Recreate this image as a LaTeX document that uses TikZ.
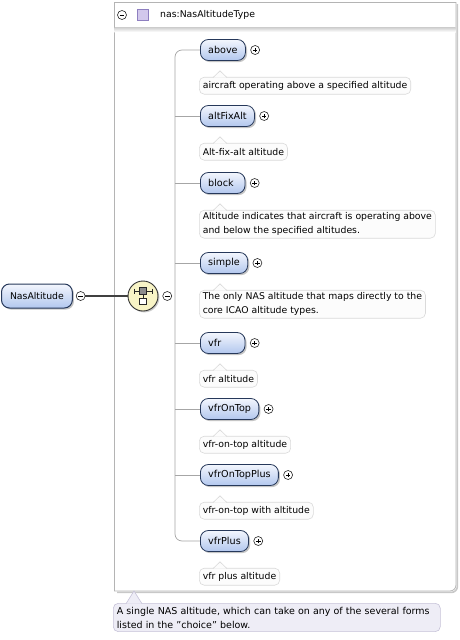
\documentclass[tikz,border=0pt]{standalone}
\usepackage{fontspec}
\setmainfont{DejaVu Sans}
\usetikzlibrary{positioning,calc,shadows}
\definecolor{Frame}{HTML}{B4B4B4}
\definecolor{FrameShade}{HTML}{C8C8C8}
\definecolor{ElemTop}{HTML}{F3F6FD}
\definecolor{ElemBot}{HTML}{B2C7EE}
\definecolor{ElemLine}{HTML}{26385A}
\definecolor{DocLine}{HTML}{DADADA}
\definecolor{DocFill}{HTML}{FCFCFC}
\definecolor{NoteFill}{HTML}{EEEDF6}
\definecolor{NoteLine}{HTML}{C6C2D8}
\definecolor{ChoiceFill}{HTML}{F8F4C6}
\definecolor{TypeFill}{HTML}{D2C8EC}
\definecolor{TypeLine}{HTML}{8E7FC0}
\definecolor{Rail}{HTML}{A6A6A6}
\newcommand{\elemfont}{\fontsize{9.6}{10}\selectfont}
\newsavebox{\elembox}
\newcommand{\elemlabel}[1]{\sbox{\elembox}{#1}%
  \ifdim\wd\elembox<29pt\makebox[29pt][l]{\usebox{\elembox}}\else\usebox{\elembox}\fi}
\tikzset{
  elemnode/.style={rounded corners=8pt, draw=ElemLine, line width=0.8pt, top color=ElemTop, bottom color=ElemBot,
    minimum height=21pt, inner xsep=7.8pt, inner ysep=0pt, anchor=west, font=\elemfont,
    drop shadow={shadow xshift=1.6pt, shadow yshift=-1.6pt, fill=black!45}},
  docnode/.style={rounded corners=5pt, draw=DocLine, fill=DocFill, line width=0.6pt, align=left,
    minimum height=17pt, inner xsep=3.5pt, inner ysep=2.5pt, font=\fontsize{9.3}{14}\selectfont},
  docline/.style={draw=DocLine, line width=0.6pt},
  notenode/.style={rounded corners=5pt, draw=NoteLine, fill=NoteFill, line width=0.6pt, align=left,
    inner xsep=3.5pt, inner ysep=3.5pt, font=\fontsize{9.5}{14}\selectfont},
  pmcirc/.style={circle, draw=black!85, line width=0.6pt, fill=white, minimum size=9pt, inner sep=0pt},
  plus/.style={path picture={\draw[black, line width=0.6pt, shift={(path picture bounding box.center)}]
    (-2.3pt,0pt) -- (2.3pt,0pt) (0pt,-2.3pt) -- (0pt,2.3pt);}},
  minus/.style={path picture={\draw[black, line width=0.6pt, shift={(path picture bounding box.center)}]
    (-2.3pt,0pt) -- (2.3pt,0pt);}},
  railline/.style={draw=Rail, line width=0.7pt},
  linkline/.style={draw=black!75, line width=1.3pt},
  choicenode/.style={circle, draw=black!80, line width=0.9pt, fill=ChoiceFill, minimum size=30pt, inner sep=0pt,
    drop shadow={shadow xshift=1.4pt, shadow yshift=-1.4pt, fill=black!40}},
}
\begin{document}
\begin{tikzpicture}[x=1pt,y=-1pt,font=\fontsize{9.3}{11}\selectfont]
\path[use as bounding box] (0,0) rectangle (459,640);
% complex type frame
\fill[white] (114,2) rectangle (456,591);
\draw[FrameShade, line width=1.6pt, rounded corners=6pt] (457.4,4) -- (457.4,592.4) -- (117,592.4);
\draw[Frame, line width=0.8pt, rounded corners=6pt] (114,591) -- (456,591) -- (456,2);
\draw[Frame, line width=0.8pt] (456,2) -- (114,2) -- (114,591);
\shade[top color=black!18, bottom color=white] (114.5,27.5) rectangle (455.5,32);
\node[pmcirc, minus] (typem) at (122,15) {};
\node[draw=TypeLine, fill=TypeFill, line width=0.6pt, minimum size=11pt, inner sep=0pt] (typesq) at (142.5,15) {};
\node[anchor=west, inner sep=0pt] (typename) at (160,15) {nas:NasAltitudeType};

% root element and choice
\node[elemnode, line width=1pt, minimum height=24pt, inner xsep=8.5pt, font=\fontsize{9.3}{10}\selectfont] (root) at (1,296) {NasAltitude};
\node[pmcirc, minus, right=3pt of root] (rootm) {};
\node[choicenode] (choice) at (143,296) {};
\node[pmcirc, minus, right=4pt of choice] (choicem) {};
\draw[linkline] (rootm) -- (choice);
\begin{scope}[shift={(choice.center)}]
  \draw[black!85, line width=0.7pt] (-9,-5) -- (9,-5);
  \draw[black!85, line width=0.7pt] (-9,-7.5) -- (-9,-2.5) (9,-7.5) -- (9,-2.5);
  \draw[black!85, line width=0.6pt] (0,-2) -- (0,2);
  \draw[black!85, fill=black!45, line width=0.6pt] (-3.5,-8.5) rectangle (3.5,-2);
  \draw[black!85, fill=white, line width=0.6pt] (-3.5,2) rectangle (3.5,8.5);
\end{scope}

% choice members
\foreach \i/\y/\name/\doc in {
1/50/above/aircraft operating above a specified altitude,
2/116/altFixAlt/Alt-fix-alt altitude,
3/183/block/{Altitude indicates that aircraft is operating above\\and below the specified altitudes.},
4/263/simple/{The only NAS altitude that maps directly to the\\core ICAO altitude types.},
5/343/vfr/vfr altitude,
6/409/vfrOnTop/vfr-on-top altitude,
7/475/vfrOnTopPlus/vfr-on-top with altitude,
8/541/vfrPlus/vfr plus altitude}{
  \node[elemnode] (e\i) at (200,\y) {\elemlabel{\name}};
  \node[pmcirc, plus, right=4.5pt of e\i] (p\i) {};
  \node[docnode, below=16pt of e\i.south west, anchor=north west, xshift=-1pt] (d\i) {\doc};
  \draw[docline, fill=DocFill] ($(d\i.north west)+(14,0.7)$) -- ($(d\i.north west)+(21,-6)$) -- ($(d\i.north west)+(28,0.7)$);
}
\coordinate (rail) at (175,296);
\draw[railline, rounded corners=7pt] (e1.west) -| (rail) |- (e8.west);
\foreach \i in {2,...,7}
  \draw[railline] (rail |- e\i.west) -- (e\i.west);

% annotation of NasAltitude
\node[notenode, anchor=north west, text width=320pt] (note) at (113,603)
  {A single NAS altitude, which can take on any of the several forms\\listed in the "choice" below.};
\draw[draw=NoteLine, line width=0.6pt, fill=NoteFill] ($(note.north west)+(13,0.7)$) -- ($(note.north west)+(21,-12)$) -- ($(note.north west)+(29,0.7)$);
\end{tikzpicture}
\end{document}
